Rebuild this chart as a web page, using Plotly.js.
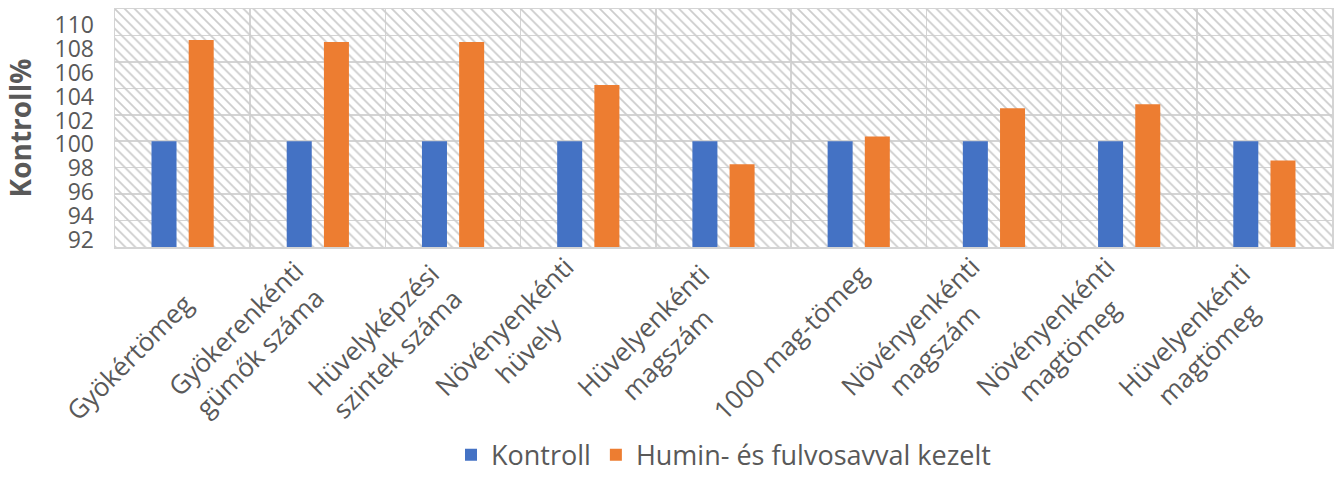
<!DOCTYPE html>
<html>
<head>
<meta charset="utf-8">
<script src="https://cdn.plot.ly/plotly-3.0.1.min.js"></script>
<style>html,body{margin:0;padding:0;background:#fff;}#chart{width:1338px;height:486px;}</style>
</head>
<body>
<div id="chart"></div>
<script>
const categories = [
  "Gyökértömeg",
  "Gyökerenkénti<br>gümők száma",
  "Hüvelyképzési<br>szintek száma",
  "Növényenkénti<br>hüvely",
  "Hüvelyenkénti<br>magszám",
  "1000 mag-tömeg",
  "Növényenkénti<br>magszám",
  "Növényenkénti<br>magtömeg",
  "Hüvelyenkénti<br>magtömeg"
];
const kontroll = [100, 100, 100, 100, 100, 100, 100, 100, 100];
const kezelt = [107.65, 107.5, 107.5, 104.25, 98.25, 100.35, 102.5, 102.8, 98.55];
const seriesNames = ["Kontroll", "Humin- és fulvosavval kezelt"];
const yTicks = [92, 94, 96, 98, 100, 102, 104, 106, 108, 110];
const yTickText = yTicks.map(String);

const FONT = "'Open Sans', 'Noto Sans', sans-serif";
const GRAY = "#595959";
const GRID = "#d4d4d4";
const yMin = yTicks[0], yMax = yTicks[yTicks.length - 1];

const background = {
  type: "bar",
  x: [categories[Math.floor(categories.length / 2)]],
  y: [yMax - yMin],
  base: [yMin],
  width: [categories.length],
  marker: {
    color: "rgba(0,0,0,0)",
    line: {width: 0},
    pattern: {shape: "\\", fgcolor: "#cccccc", size: 7, solidity: 0.25}
  },
  showlegend: false,
  hoverinfo: "skip"
};

const tr1 = {
  type: "bar", x: categories, y: kontroll, name: seriesNames[0],
  offset: -0.23, width: 0.185,
  marker: {color: "#4472C4", line: {width: 0}}
};
const tr2 = {
  type: "bar", x: categories, y: kezelt, name: seriesNames[1],
  offset: 0.045, width: 0.185,
  marker: {color: "#ED7D31", line: {width: 0}}
};
const labelAxisTrace = {
  type: "scatter", x: categories, y: kontroll, yaxis: "y2",
  mode: "none", showlegend: false, hoverinfo: "skip"
};

const catLabels = categories.map(function (c) {
  return {
    x: c, xref: "x",
    y: -0.77, yref: "paper",
    xanchor: "right", yanchor: "bottom",
    xshift: 20,
    textangle: -45,
    text: c, align: "center",
    showarrow: false,
    font: {family: FONT, size: 26, color: GRAY}
  };
});

const layout = {
  width: 1338, height: 486,
  margin: {l: 115, r: 6, t: 9, b: 234},
  paper_bgcolor: "#ffffff",
  plot_bgcolor: "#ffffff",
  barmode: "overlay",
  font: {family: FONT, color: GRAY},
  xaxis: {
    type: "category",
    categoryorder: "array", categoryarray: categories,
    range: [-0.5, categories.length - 0.5],
    tickson: "boundaries",
    showgrid: true, gridcolor: GRID, gridwidth: 1.5,
    showline: true, linecolor: GRID, linewidth: 1.5, mirror: true,
    ticks: "",
    showticklabels: false,
    fixedrange: true
  },
  yaxis: {
    range: [yMin, yMax], autorange: false,
    tickvals: yTicks,
    showticklabels: false,
    showgrid: true, gridcolor: GRID, gridwidth: 1.5,
    zeroline: false,
    showline: true, linecolor: GRID, linewidth: 1.5, mirror: true,
    ticks: "",
    fixedrange: true
  },
  yaxis2: {
    overlaying: "y", side: "left",
    range: [91.43, 111.31], autorange: false,
    tickvals: yTicks, ticktext: yTickText,
    showgrid: false, zeroline: false, showline: false,
    ticks: "",
    ticklabelstandoff: 20,
    tickfont: {family: FONT, size: 23, color: GRAY},
    title: {text: "Kontroll%", standoff: 14, font: {family: FONT, size: 28, color: GRAY, weight: "bold"}},
    fixedrange: true
  },
  annotations: catLabels,
  legend: {
    orientation: "h",
    x: 0.5, xanchor: "center",
    y: -0.875, yanchor: "middle",
    font: {family: FONT, size: 27, color: GRAY},
    itemwidth: 30,
    traceorder: "normal"
  },
  showlegend: true
};

Plotly.newPlot("chart", [background, tr1, tr2, labelAxisTrace], layout, {displayModeBar: false, staticPlot: true});
</script>
</body>
</html>
